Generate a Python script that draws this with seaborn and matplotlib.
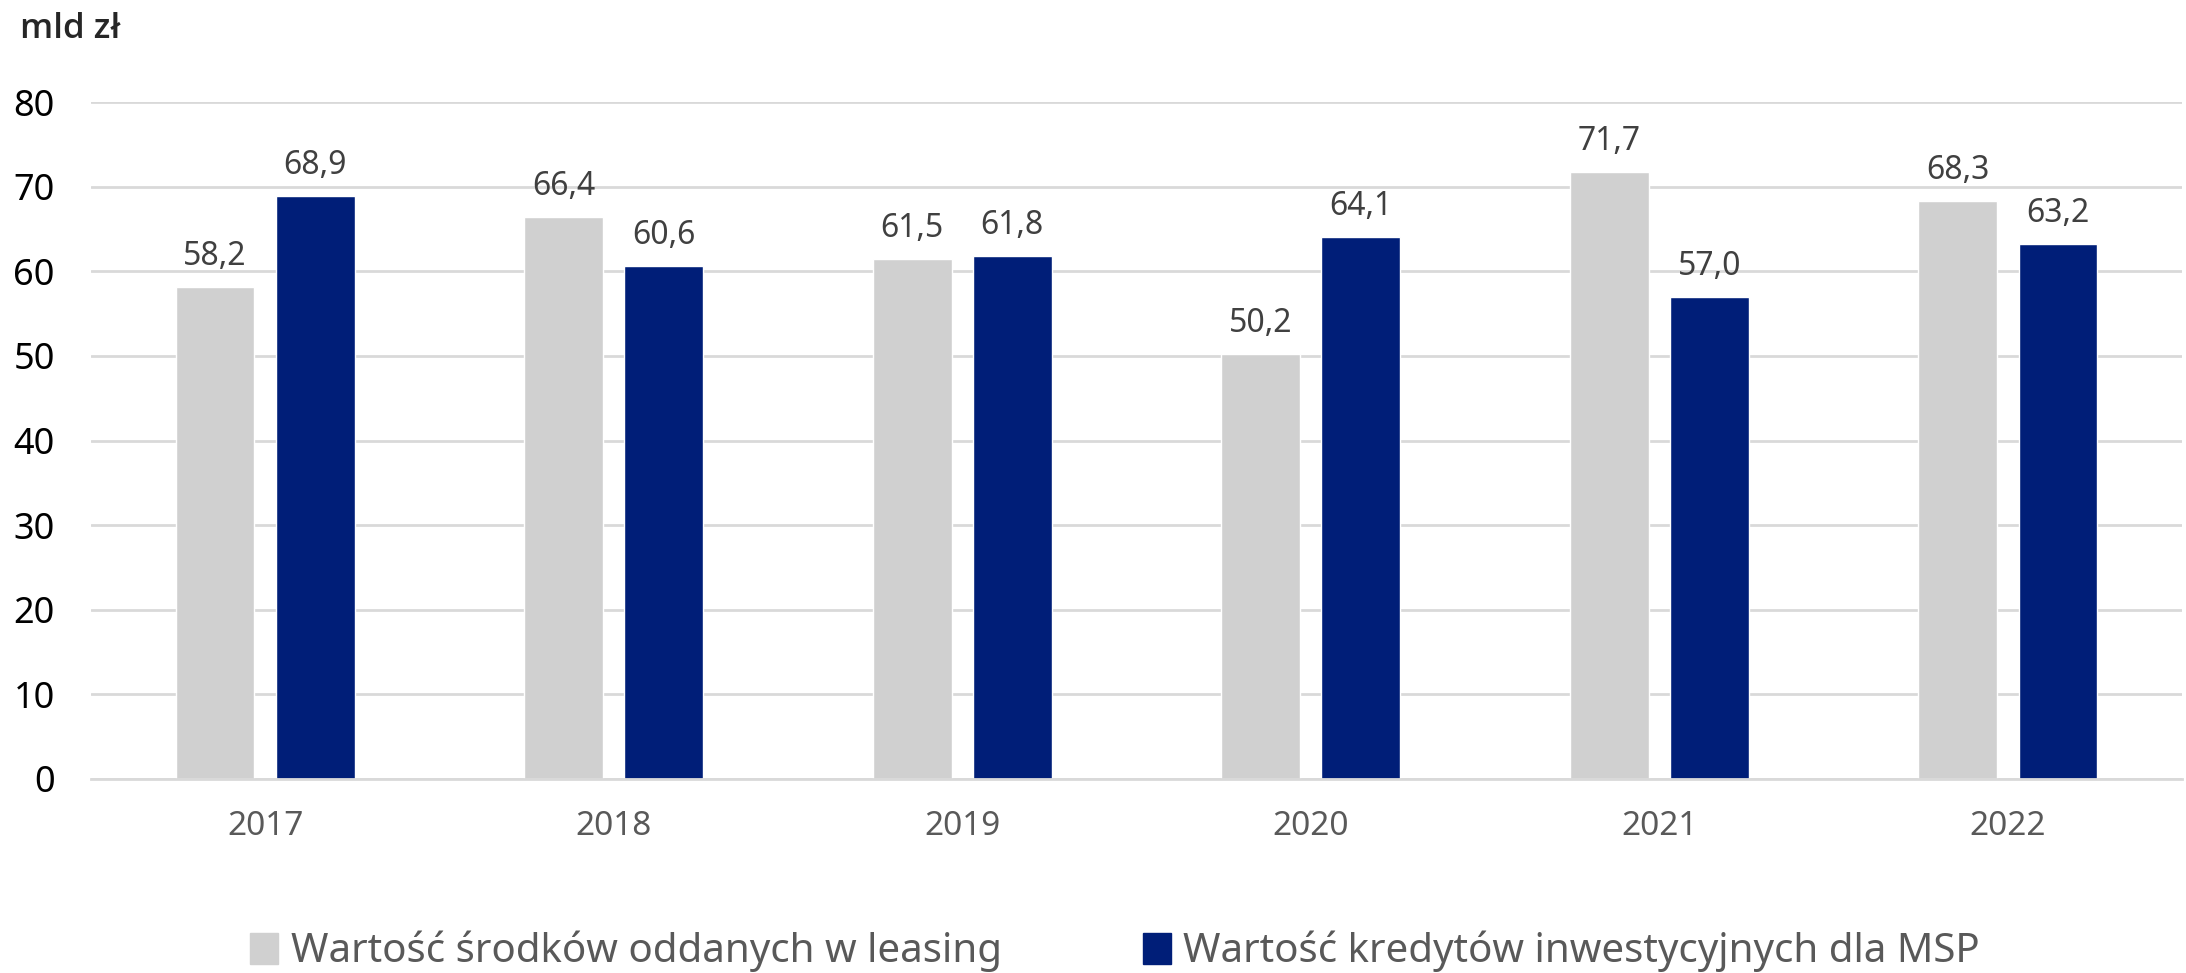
import matplotlib
matplotlib.use("Agg")
import matplotlib.pyplot as plt
import seaborn as sns
import pandas as pd

years = ["2017", "2018", "2019", "2020", "2021", "2022"]
leasing = [58.2, 66.4, 61.5, 50.2, 71.7, 68.3]
kredyty = [68.9, 60.6, 61.8, 64.1, 57.0, 63.2]
series = ["Wartość środków oddanych w leasing", "Wartość kredytów inwestycyjnych dla MSP"]
colors = ["#D0D0D0", "#001E78"]

df = pd.DataFrame({
    "rok": years * 2,
    "wartosc": leasing + kredyty,
    "seria": [series[0]] * len(years) + [series[1]] * len(years),
})

sns.set_style("white")
plt.rcParams["font.family"] = ["Noto Sans", "DejaVu Sans"]

fig = plt.figure(figsize=(21.86, 9.73), dpi=100)
ax = fig.add_axes([0.0416, 0.1994, 0.9566, 0.6956])

sns.barplot(data=df, x="rok", y="wartosc", hue="seria", palette=colors,
            width=0.575, gap=0.214, ax=ax, legend=False, saturation=1)

for cont in ax.containers:
    labels = [f"{v:.1f}".replace(".", ",") for v in cont.datavalues]
    ax.bar_label(cont, labels=labels, padding=10, fontsize=23, color="#404040")

ax.set_ylim(0, 80)
ax.set_yticks(range(0, 81, 10))
ax.set_xlim(-0.5, 5.5)
ax.yaxis.grid(True, color="#D9D9D9", linewidth=2)
ax.set_axisbelow(True)
for s in ["top", "right", "left"]:
    ax.spines[s].set_visible(False)
ax.spines["bottom"].set_color("#D9D9D9")
ax.spines["bottom"].set_linewidth(2)
ax.tick_params(axis="y", labelsize=26, labelcolor="black", length=0, pad=26)
ax.tick_params(axis="x", labelsize=24, labelcolor="#595959", length=0, pad=22)
ax.set_xlabel("")
ax.set_ylabel("")

fig.text(0.009, 0.97, "mld zł", fontsize=25, fontweight="semibold",
         family=["Open Sans", "DejaVu Sans"], va="center", ha="left")

handles = [plt.Rectangle((0, 0), 1, 1, color=c) for c in colors]
fig.legend(handles, series, loc="center", bbox_to_anchor=(0.51, 0.022), ncol=2,
           frameon=False, prop={"size": 29, "stretch": "condensed"},
           handlelength=0.7, handleheight=0.8, handletextpad=0.3, columnspacing=3.5,
           labelcolor="#595959")

fig.savefig("out.png", dpi=100)
